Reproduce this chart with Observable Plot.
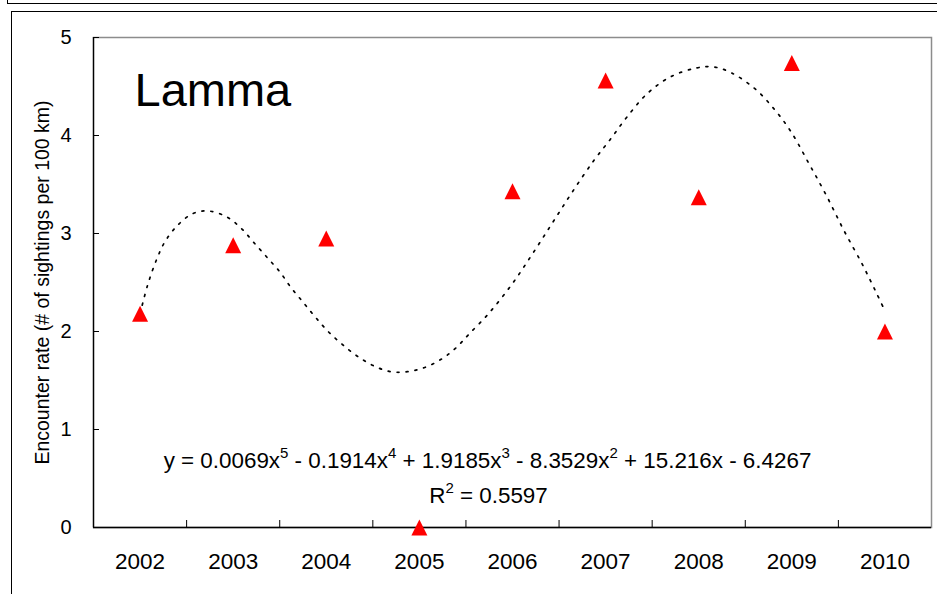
<!DOCTYPE html>
<html>
<head>
<meta charset="utf-8">
<script src="https://cdn.jsdelivr.net/npm/d3@7"></script>
<script src="https://cdn.jsdelivr.net/npm/@observablehq/plot@0.6"></script>
<style>
  body { margin: 0; background: #fff; }
  #wrap { position: relative; width: 937px; height: 594px; overflow: hidden; background: #fff;
          font-family: "Liberation Sans", Arial, sans-serif; }
  .prev-frame { position: absolute; left: 7px; top: -30px; width: 1000px; height: 32px; border: 1.5px solid #000; }
  .chart-frame { position: absolute; left: 11px; top: 11px; width: 1000px; height: 1000px; border: 1.5px solid #000; }
  #wrap svg { position: absolute; left: 0; top: 0; }
</style>
</head>
<body>
<div id="wrap"><div class="prev-frame"></div><div class="chart-frame"></div></div>
<script>
// Survey years (categories) and encounter rate observed each year
const years = ["2002", "2003", "2004", "2005", "2006", "2007", "2008", "2009", "2010"];
const encounterRate = [2.18, 2.88, 2.95, 0, 3.43, 4.56, 3.37, 4.74, 2.0];

// Polynomial trendline traced along the category axis (0 = 2002 ... 8 = 2010)
const trendPos = [0, 0.08, 0.18, 0.27, 0.40, 0.56, 0.73, 0.93, 1.09, 1.22, 1.37, 1.50, 1.62, 1.75, 1.88,
                  2.02, 2.17, 2.33, 2.51, 2.69, 2.87, 3.05, 3.24, 3.39, 3.53, 3.75, 4.00, 4.22, 4.43,
                  4.64, 4.87, 5.05, 5.23, 5.45, 5.70, 5.98, 6.16, 6.35, 6.60, 6.81, 6.99, 7.18, 7.37,
                  7.56, 7.76, 7.90, 8.00];
const trendRate = [2.18, 2.47, 2.74, 2.92, 3.08, 3.20, 3.23, 3.17, 3.05, 2.91, 2.75, 2.61, 2.45, 2.30, 2.15,
                   2.00, 1.87, 1.75, 1.65, 1.59, 1.59, 1.63, 1.72, 1.83, 1.97, 2.19, 2.49, 2.80, 3.11,
                   3.42, 3.74, 3.96, 4.19, 4.43, 4.60, 4.69, 4.70, 4.64, 4.48, 4.27, 4.04, 3.72, 3.39,
                   3.03, 2.68, 2.41, 2.21];

const yTicks = [0, 1, 2, 3, 4, 5];
const siteName = "Lamma";
const yLabel = "Encounter rate (# of sightings per 100 km)";
const equation = "y = 0.0069x^5 - 0.1914x^4 + 1.9185x^3 - 8.3529x^2 + 15.216x - 6.4267";
const rSquared = "R^2 = 0.5597";

const rows = years.map((year, i) => ({pos: i, year, rate: encounterRate[i]}));
const trend = trendPos.map((p, k) => ({pos: p, rate: trendRate[k]}));
const xDomain = [-0.5, years.length - 0.5];
const boundaries = d3.range(0.5, years.length - 1, 1);

// Upright triangle whose bounding box is centred on the data point
const triangle = {
  draw(ctx, size) {
    const h = Math.sqrt(size / Math.PI);
    ctx.moveTo(0, -h);
    ctx.lineTo(h, h);
    ctx.lineTo(-h, h);
    ctx.closePath();
  }
};

const chart = Plot.plot({
  width: 937,
  height: 594,
  marginTop: 37,
  marginLeft: 93,
  marginRight: 6,
  marginBottom: 67,
  style: {fontFamily: "'Liberation Sans', Arial, sans-serif", background: "transparent", color: "#000"},
  x: {type: "linear", domain: xDomain, label: null},
  y: {domain: [0, 5], label: null},
  marks: [
    Plot.frame({stroke: "#8c8c8c", strokeWidth: 1.5}),
    Plot.axisY(yTicks, {tickSize: -6, tickFormat: () => "", strokeWidth: 1}),
    Plot.axisY(yTicks, {tickSize: 0, tickPadding: 22, fontSize: 20, tickFormat: d => String(d)}),
    Plot.axisX(boundaries, {tickSize: -7, tickFormat: () => "", strokeWidth: 1}),
    Plot.axisX(d3.range(years.length), {tickSize: 0, tickPadding: 26, fontSize: 22.5, tickFormat: i => years[i]}),
    Plot.ruleX([xDomain[0]], {stroke: "#000", strokeWidth: 1.3}),
    Plot.ruleY([0], {stroke: "#000", strokeWidth: 1.3}),
    Plot.line(trend, {x: "pos", y: "rate", curve: "catmull-rom", stroke: "#000",
                      strokeWidth: 1.7, strokeDasharray: "2 7"}),
    Plot.dot(rows, {x: "pos", y: "rate", symbol: triangle, r: 8, fill: "#ff0000", stroke: "none"}),
    Plot.text([siteName], {text: d => d, frameAnchor: "top-left", dx: 41, dy: 35, lineAnchor: "top",
                           textAnchor: "start", fontSize: 47}),
    Plot.text([yLabel], {text: d => d, frameAnchor: "left", rotate: -90, dx: -51, textAnchor: "middle",
                         fontSize: 19.5}),
    Plot.text([equation], {text: d => d, frameAnchor: "bottom", dx: -25, dy: -60, lineAnchor: "bottom", fontSize: 22.4}),
    Plot.text([rSquared], {text: d => d, frameAnchor: "bottom", dx: -24, dy: -25, lineAnchor: "bottom", fontSize: 22.4})
  ]
});

// Turn "^n" markers into raised exponents
d3.select(chart).selectAll("text").each(function () {
  const s = this.textContent;
  if (!s.includes("^")) return;
  const parts = s.split(/\^(\d)/);
  const t = d3.select(this);
  t.text(null).style("white-space", "pre");
  let shift = 0;
  parts.forEach((part, k) => {
    if (part === "") return;
    const span = t.append("tspan").text(part);
    if (k % 2 === 1) {
      span.attr("dy", -10).attr("font-size", 15);
      shift = 10;
    } else if (shift) {
      span.attr("dy", shift);
      shift = 0;
    }
  });
});

document.getElementById("wrap").appendChild(chart);
</script>
</body>
</html>
